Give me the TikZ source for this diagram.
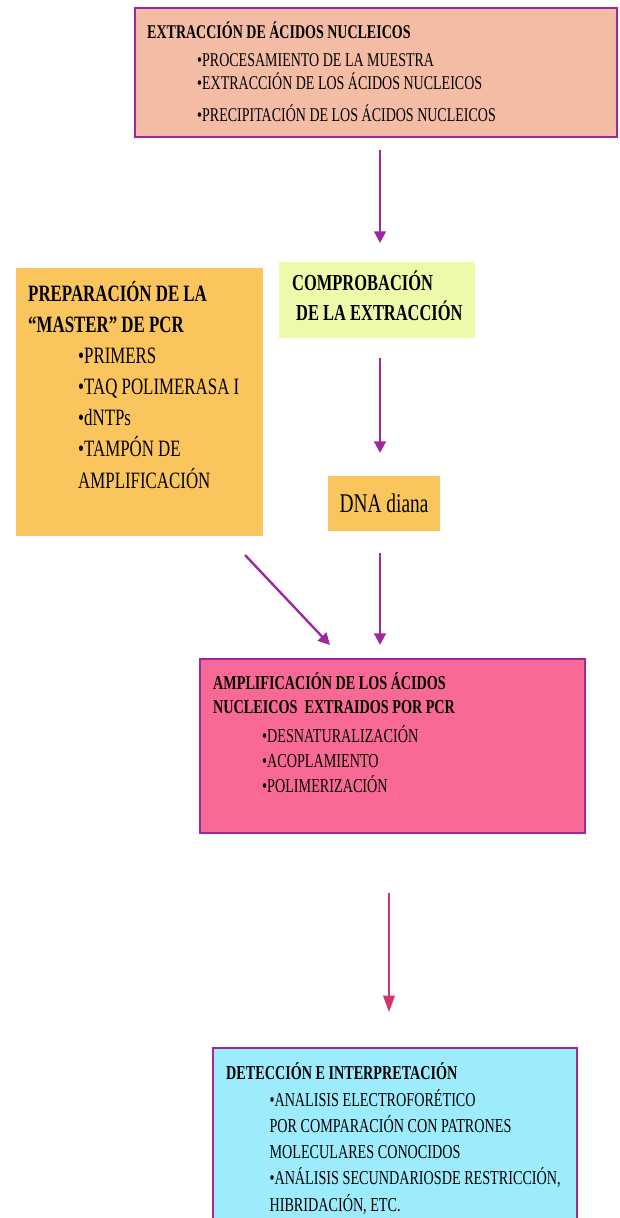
\documentclass[tikz,border=0pt]{standalone}
\usepackage{fontspec}
\setmainfont{Liberation Serif}[FakeStretch=0.72]
\usetikzlibrary{arrows.meta,calc}

\definecolor{salmon}{RGB}{244,188,164}
\definecolor{naranja}{RGB}{251,197,94}
\definecolor{verdeclaro}{RGB}{236,251,170}
\definecolor{rosa}{RGB}{248,106,149}
\definecolor{celeste}{RGB}{157,236,254}
\definecolor{morado}{RGB}{158,38,158}
\definecolor{fucsia}{RGB}{214,51,108}

\begin{document}
\begin{tikzpicture}[
    x=0.03cm, y=-0.03cm,
    caja/.style={rectangle, inner sep=0pt, outer sep=0pt},
    marco/.style={caja, draw=morado, line width=1.8pt},
    % base = linea de base de la ultima linea
    texto/.style={anchor=base west, inner sep=0pt, align=left, text=black},
    flecha/.style={draw=morado, line width=2pt, -{Triangle[length=10pt,width=10pt]}},
    flechaRosa/.style={draw=fucsia, line width=1.3pt, -{Triangle[length=14pt,width=10pt]}}
  ]
  \useasboundingbox (0,0) rectangle (620,1218);
  \clip (0,0) rectangle (620,1218);
  \coordinate (eje) at (380,0);
  \coordinate (eje2) at (389,0);

  % cajas
  \node[marco, fill=salmon, minimum width=14.46cm, minimum height=3.87cm] (extraccion) at (376,72.5) {};
  \node[caja, fill=naranja, minimum width=7.41cm, minimum height=8.04cm] (preparacion) at (139.5,402) {};
  \node[caja, fill=verdeclaro, minimum width=5.88cm, minimum height=2.28cm] (comprobacion) at (377,300) {};
  \node[caja, fill=naranja, minimum width=3.36cm, minimum height=1.65cm,
        font=\fontsize{23}{27}\selectfont] (diana) at (384,503.5) {DNA diana};
  \node[marco, fill=rosa, minimum width=11.55cm, minimum height=5.22cm] (amplificacion) at (392.5,746) {};
  \node[marco, fill=celeste, minimum width=10.92cm, minimum height=5.76cm] (deteccion) at (395,1144) {};

  % textos
  \node[texto, font=\fontsize{16.6}{19.6}\selectfont] (extraccionTxt) at (147,121)
    {\textbf{EXTRACCIÓN DE ÁCIDOS NUCLEICOS}\\[4.3pt]
     \hspace*{1.5cm}•PROCESAMIENTO DE LA MUESTRA\\
     \hspace*{1.5cm}•EXTRACCIÓN DE LOS ÁCIDOS NUCLEICOS\\[6.9pt]
     \hspace*{1.5cm}•PRECIPITACIÓN DE LOS ÁCIDOS NUCLEICOS};
  \node[texto, font=\fontsize{20}{26.5}\selectfont] (preparacionTxt) at (28,488)
    {\textbf{PREPARACIÓN DE LA}\\
     \textbf{“MASTER” DE PCR}\\
     \hspace*{1.5cm}•PRIMERS\\
     \hspace*{1.5cm}•TAQ POLIMERASA I\\
     \hspace*{1.5cm}•dNTPs\\
     \hspace*{1.5cm}•TAMPÓN DE\\
     \hspace*{1.5cm}AMPLIFICACIÓN};
  \node[texto, font=\fontsize{19.5}{25.6}\selectfont\bfseries] (comprobacionTxt) at (292,320)
    {COMPROBACIÓN\\
     \hspace*{0.12cm}DE LA EXTRACCIÓN};
  \node[texto, font=\fontsize{16.8}{21}\selectfont] (amplificacionTxt) at (213,792)
    {\textbf{AMPLIFICACIÓN DE LOS ÁCIDOS}\\
     \textbf{NUCLEICOS\ \ EXTRAIDOS POR PCR}\\[3.8pt]
     \hspace*{1.47cm}•DESNATURALIZACIÓN\\
     \hspace*{1.47cm}•ACOPLAMIENTO\\
     \hspace*{1.47cm}•POLIMERIZACIÓN};
  \node[texto, font=\fontsize{16.8}{22.4}\selectfont] (deteccionTxt) at (226,1211)
    {\textbf{DETECCIÓN E INTERPRETACIÓN}\\
     \hspace*{1.3cm}•ANALISIS ELECTROFORÉTICO\\
     \hspace*{1.3cm}POR COMPARACIÓN CON PATRONES\\
     \hspace*{1.3cm}MOLECULARES CONOCIDOS\\
     \hspace*{1.3cm}•ANÁLISIS SECUNDARIOSDE RESTRICCIÓN,\\
     \hspace*{1.3cm}HIBRIDACIÓN, ETC.};

  % flechas
  \draw[flecha] ($(extraccion.south -| eje)+(0,13)$) -- ($(comprobacion.north -| eje)+(0,-19)$);
  \draw[flecha] ($(comprobacion.south -| eje)+(0,20)$) -- ($(diana.north -| eje)+(0,-23)$);
  \draw[flecha] ($(diana.south -| eje)+(0,22)$) -- ($(amplificacion.north -| eje)+(0,-14)$);
  \draw[flecha] ($(preparacion.south east)+(-18,19)$) -- ($(amplificacion.north west)+(130,-14)$);
  \draw[flechaRosa] ($(amplificacion.south -| eje2)+(0,60)$) -- ($(deteccion.north -| eje2)+(0,-36)$);
\end{tikzpicture}
\end{document}
